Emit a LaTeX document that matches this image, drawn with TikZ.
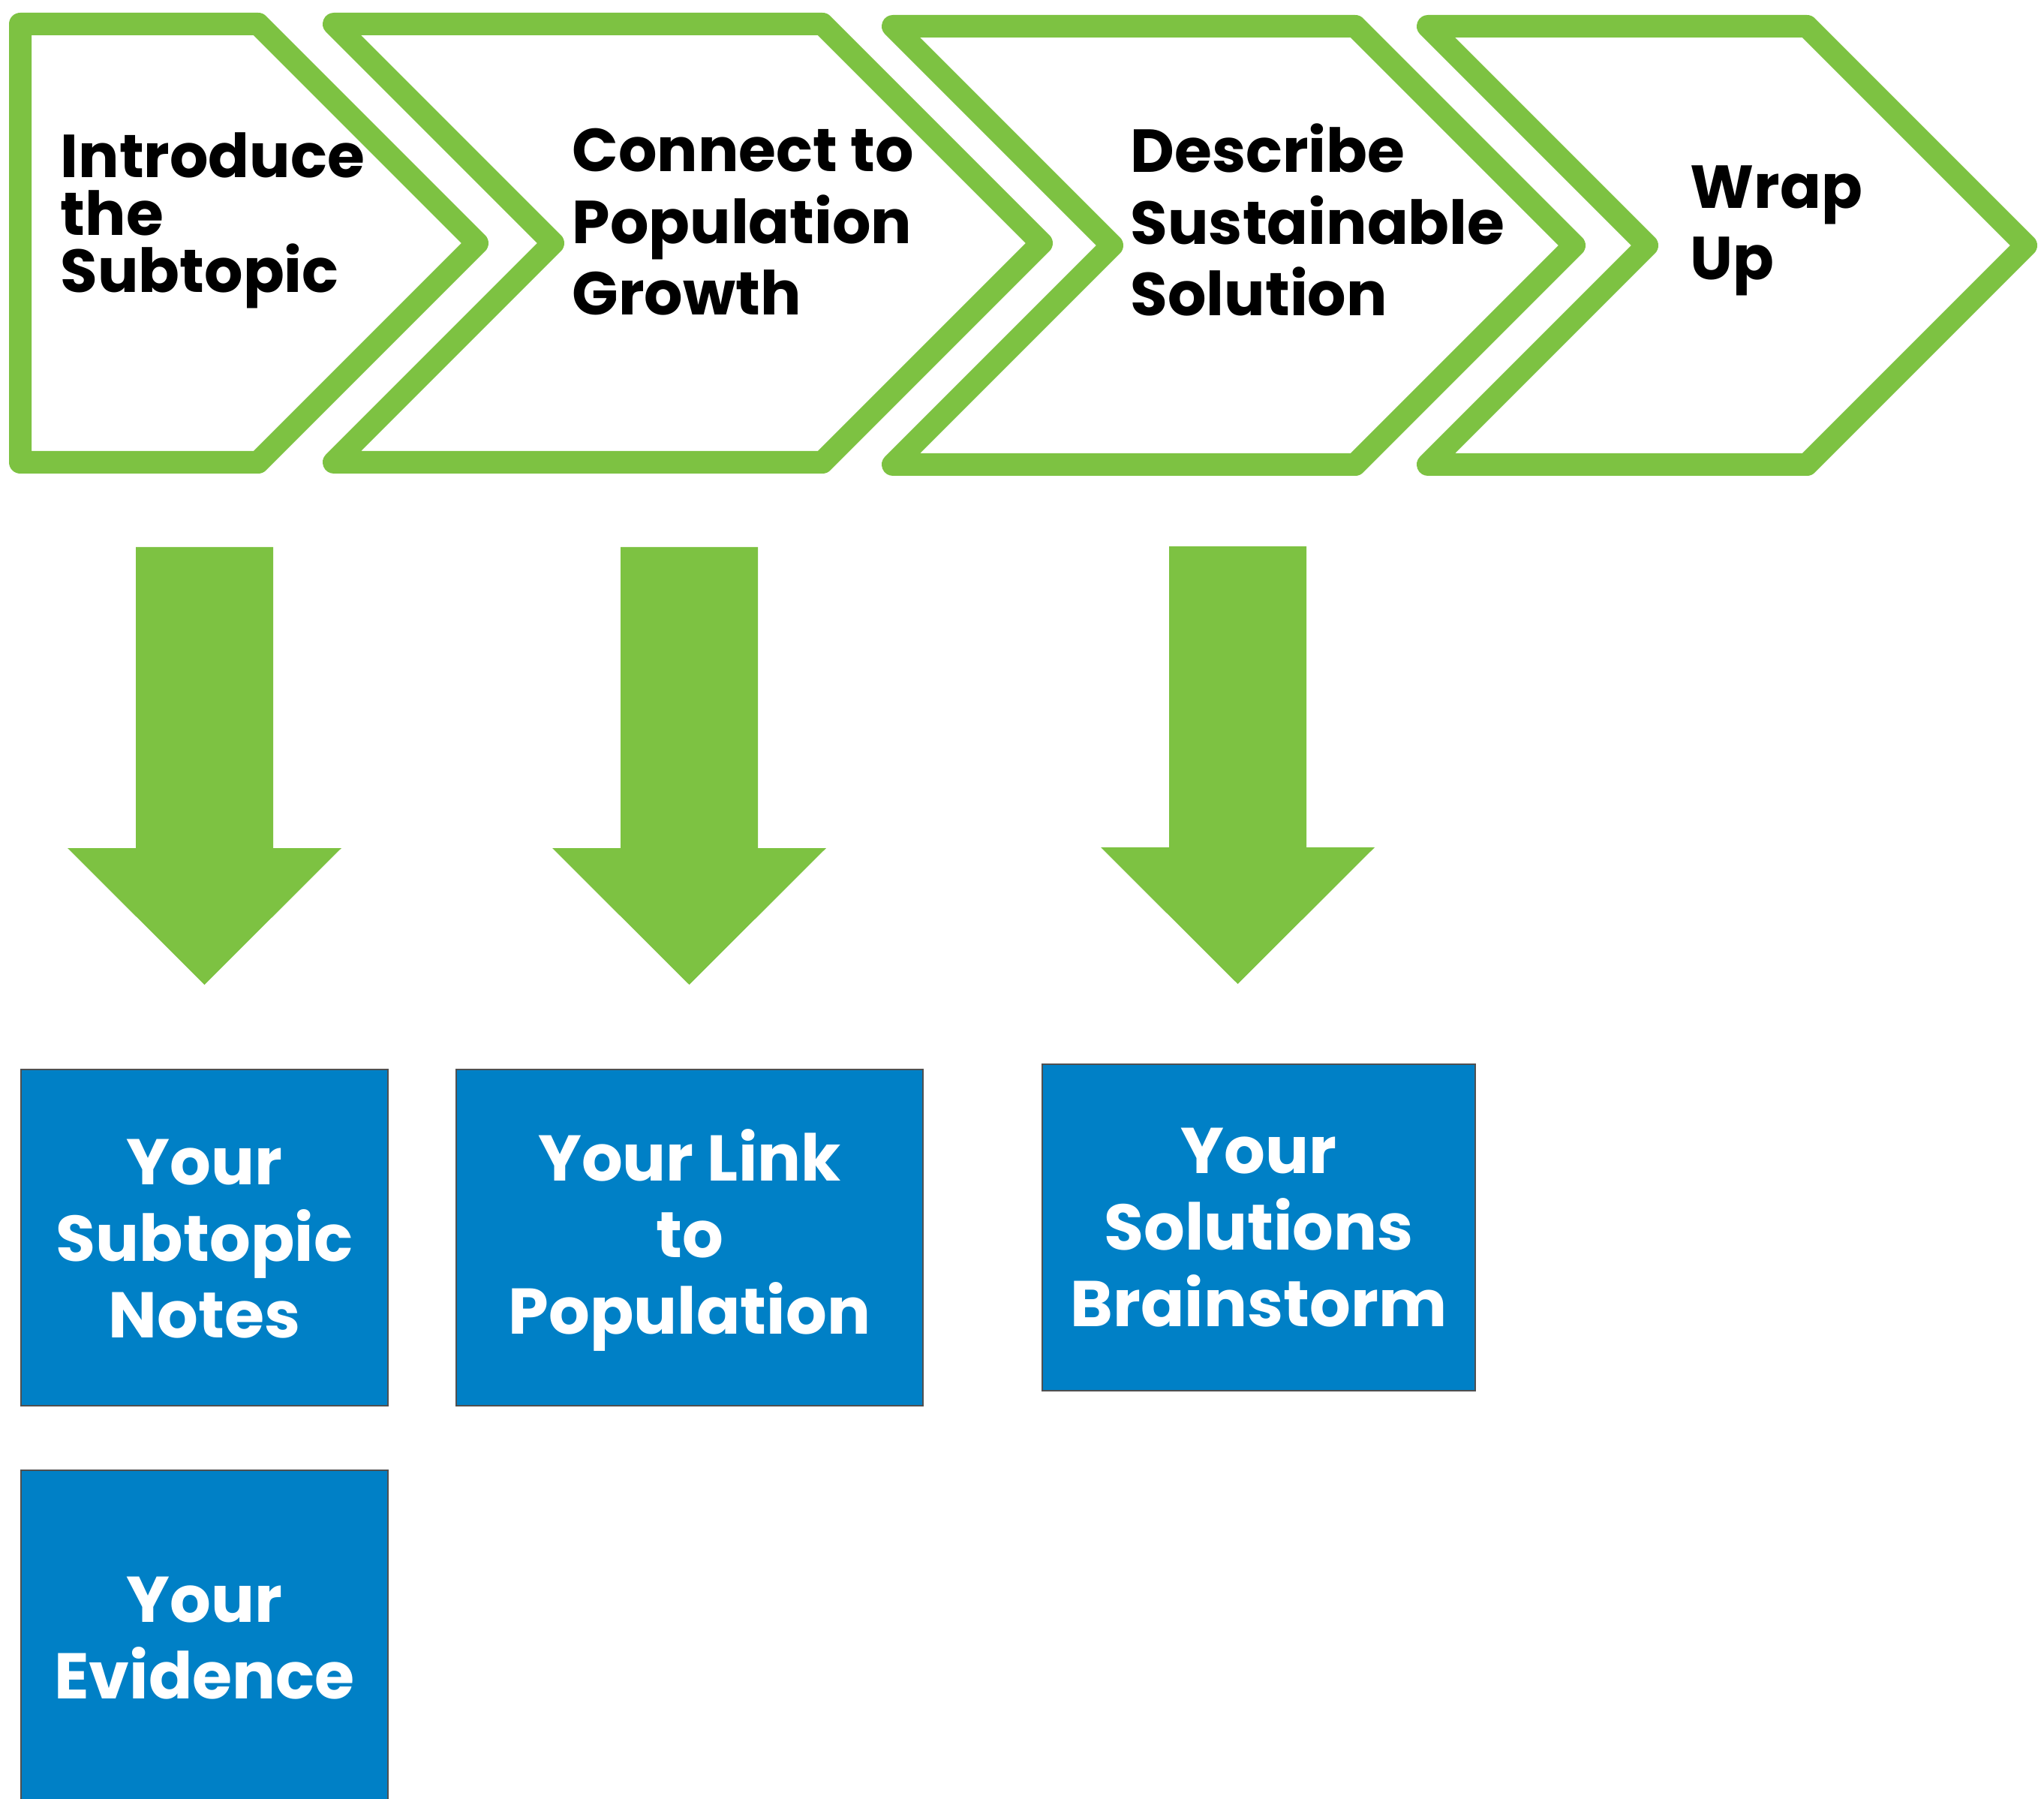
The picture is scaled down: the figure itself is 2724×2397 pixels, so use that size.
\documentclass[tikz,border=0pt]{standalone}
\usepackage{fontspec}
\newfontfamily\pop{Poppins}
\definecolor{chevgreen}{HTML}{7DC242}
\definecolor{boxblue}{HTML}{0080C6}
\definecolor{boxedge}{HTML}{505050}
\begin{document}
\begin{tikzpicture}[x=0.1mm,y=-0.1mm,
  chev/.style={draw=chevgreen, line width=3mm, line join=round, fill=white},
  chevtext/.style={anchor=base west, align=left, inner sep=0pt, font=\pop\bfseries\fontsize{23}{27.3}\selectfont},
  blockarrow/.style={fill=chevgreen, draw=none},
  bluebox/.style={fill=boxblue, draw=boxedge, line width=0.2mm, inner sep=0pt},
  boxtext/.style={anchor=base, align=center, inner sep=0pt, text=white, font=\pop\bfseries\fontsize{24.5}{29}\selectfont}]
\useasboundingbox (0,0) rectangle (2724,2397);
\clip (0,0) rectangle (2724,2397);
% chevrons
\draw[chev] (27,32) -- (344,32) -- (636,324) -- (344,616) -- (27,616) -- cycle;
\draw[chev] (445,32) -- (1096,32) -- (1388,324) -- (1096,616) -- (445,616) -- (737,324) -- cycle;
\draw[chev] (1190,35) -- (1806,35) -- (2098,327) -- (1806,619) -- (1190,619) -- (1482,327) -- cycle;
\draw[chev] (1903,35) -- (2408,35) -- (2700,327) -- (2408,619) -- (1903,619) -- (2195,327) -- cycle;
% chevron texts (anchor = baseline of last line)
\node[chevtext, font=\pop\bfseries\fontsize{23}{21.8}\selectfont] (c1) at (80,390) {Introduce\\the\\Subtopic};
\node[chevtext] (c2) at (762,420) {Connect to\\Population\\Growth};
\node[chevtext] (c3) at (1506,421) {Describe\\Sustainable\\Solution};
\node[chevtext] (c4) at (2252,373) {Wrap\\Up};
% block arrows
\fill[blockarrow] (181,729) -- (364,729) -- (364,1130) -- (455,1130) -- (272.5,1312) -- (90,1130) -- (181,1130) -- cycle;
\fill[blockarrow] (827,729) -- (1010,729) -- (1010,1130) -- (1101,1130) -- (918.5,1312) -- (736,1130) -- (827,1130) -- cycle;
\fill[blockarrow] (1558,728) -- (1741,728) -- (1741,1129) -- (1832,1129) -- (1649.5,1311) -- (1467,1129) -- (1558,1129) -- cycle;
% blue boxes
\node[bluebox, minimum width=48.9mm, minimum height=44.8mm] (b1) at (272.5,1649) {};
\node[bluebox, minimum width=62.2mm, minimum height=44.8mm] (b2) at (919,1649) {};
\node[bluebox, minimum width=57.7mm, minimum height=43.5mm] (b3) at (1677.5,1635.5) {};
\node[bluebox, minimum width=48.9mm, minimum height=47.1mm] (b4) at (272.5,2194.5) {};
\node[boxtext] (t1) at (272.5,1782) {Your\\Subtopic\\Notes};
\node[boxtext] (t2) at (919,1777) {Your Link\\to\\Population};
\node[boxtext] (t3) at (1677.5,1767) {Your\\Solutions\\Brainstorm};
\node[boxtext] (t4) at (272.5,2263) {Your\\Evidence};
\end{tikzpicture}
\end{document}
